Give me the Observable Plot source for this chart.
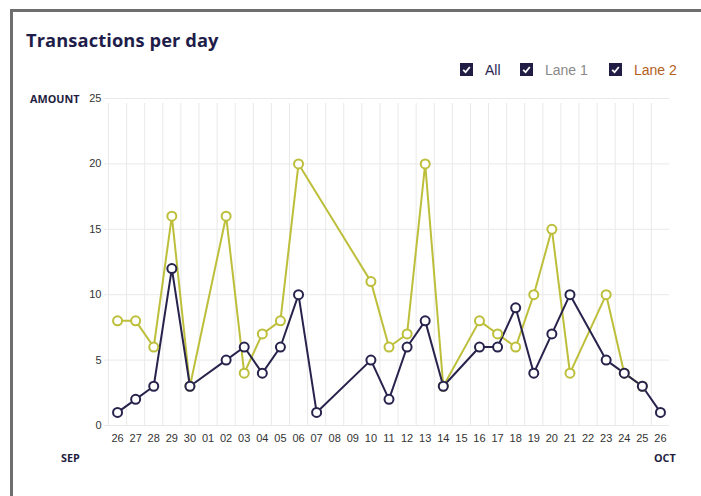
<!DOCTYPE html>
<html>
<head>
<meta charset="utf-8">
<script src="https://cdn.jsdelivr.net/npm/d3@7"></script>
<script src="https://cdn.jsdelivr.net/npm/@observablehq/plot@0.6"></script>
<style>
  html, body { margin: 0; padding: 0; background: #fff; width: 701px; height: 496px; overflow: hidden; }
  #card { position: absolute; left: 10px; top: 9px; width: 700px; height: 500px;
          border-top: 3px solid #6e6e6e; border-left: 3px solid #6e6e6e; box-sizing: border-box; }
  #title { position: absolute; left: 26px; top: 27px; font-family: "Open Sans", sans-serif; font-weight: 700;
           font-size: 18.3px; color: #1f1d4a; letter-spacing: 0.1px; }
  #legend { position: absolute; top: 61px; left: 460px; font-family: "Liberation Sans", Arial, sans-serif; font-size: 14px; }
  .item { position: absolute; top: 0; white-space: nowrap; }
  .box { position: absolute; top: 2px; left: 0; width: 13px; height: 13px; background: #221d45; }
  .box svg { position: absolute; left: 0; top: 0; }
  .lbl { position: absolute; left: 25px; top: 0; line-height: 18px; }
  .axlbl { position: absolute; font-family: "Open Sans", sans-serif; font-weight: 700; font-size: 10.8px; line-height: 14px; color: #1f1d3f; }
  #chart { position: absolute; left: 0; top: 80px; }
</style>
</head>
<body>
<div id="card"></div>
<div id="title">Transactions per day</div>
<div id="legend"></div>
<div class="axlbl" style="left:30px; top:92px;">AMOUNT</div>
<div class="axlbl" style="left:61px; top:451px;">SEP</div>
<div class="axlbl" style="left:654px; top:451px;">OCT</div>
<div id="chart"></div>
<script>
// ---- data ----
const dates = [
  "2023-09-26","2023-09-27","2023-09-28","2023-09-29","2023-09-30",
  "2023-10-01","2023-10-02","2023-10-03","2023-10-04","2023-10-05",
  "2023-10-06","2023-10-07","2023-10-08","2023-10-09","2023-10-10",
  "2023-10-11","2023-10-12","2023-10-13","2023-10-14","2023-10-15",
  "2023-10-16","2023-10-17","2023-10-18","2023-10-19","2023-10-20",
  "2023-10-21","2023-10-22","2023-10-23","2023-10-24","2023-10-25","2023-10-26"
];
// dark navy series (null = no point that day)
const seriesNavy = [1, 2, 3, 12, 3, null, 5, 6, 4, 6, 10, 1, null, null, 5, 2, 6, 8, 3, null, 6, 6, 9, 4, 7, 10, null, 5, 4, 3, 1];
// olive series
const seriesOlive = [8, 8, 6, 16, 3, null, 16, 4, 7, 8, 20, null, null, null, 11, 6, 7, 20, 3, null, 8, 7, 6, 10, 15, 4, null, 10, 4, 3, null];
const yTicks = [0, 5, 10, 15, 20, 25];
const legendItems = [
  {label: "All", color: "#2a2552"},
  {label: "Lane 1", color: "#8a8a8a"},
  {label: "Lane 2", color: "#b4601c"}
];
const legendX = [0, 60, 149];

const navyColor = "#27234d";
const oliveColor = "#bdbf3b";
const gridColor = "#e9e9e9";

// ---- legend ----
const legend = document.getElementById("legend");
legendItems.forEach((it, i) => {
  const d = document.createElement("div");
  d.className = "item";
  d.style.left = legendX[i] + "px";
  d.innerHTML = `<div class="box"><svg width="13" height="13"><path d="M3.2 6.8 L5.6 9.2 L9.8 4" stroke="#fff" stroke-width="1.8" fill="none"/></svg></div><span class="lbl" style="color:${it.color}">${it.label}</span>`;
  legend.appendChild(d);
});

// ---- chart ----
const parse = d3.utcParse("%Y-%m-%d");
const dayDates = dates.map(parse);
const toRows = (vals, series) => dayDates.map((d, i) => ({date: d, value: vals[i], series}))
  .filter(r => r.value != null);
const navy = toRows(seriesNavy, "navy");
const olive = toRows(seriesOlive, "olive");

const half = 12 * 3600 * 1000;
const x0 = new Date(+dayDates[0] - half);
const x1 = new Date(+dayDates[dayDates.length - 1] + half);
const bandEdges = d3.utcDay.range(new Date(+dayDates[0]), new Date(+dayDates[dayDates.length - 1] + 2 * half))
  .map(d => new Date(+d - half));

const chart = Plot.plot({
  width: 701,
  height: 400,
  marginLeft: 108,
  marginRight: 32,
  marginTop: 18,
  marginBottom: 55,
  style: {fontFamily: "'Liberation Sans', Arial, sans-serif", fontSize: "11px", color: "#333", background: "transparent"},
  x: {type: "utc", domain: [x0, x1], axis: null},
  y: {domain: [0, 25], axis: null},
  marks: [
    Plot.ruleY(yTicks, {stroke: gridColor, strokeWidth: 1, x1: x0, x2: x1, insetLeft: -4}),
    Plot.ruleX(bandEdges, {stroke: gridColor, strokeWidth: 1, y1: 0, y2: 25, insetBottom: -5}),
    Plot.axisY(yTicks, {tickSize: 0, tickPadding: 7, fontSize: 11, fill: "#333", label: null}),
    Plot.axisX(dayDates, {tickSize: 0, tickPadding: 9, fontSize: 11, fill: "#333", label: null, tickFormat: d3.utcFormat("%d")}),
    Plot.line(olive, {x: "date", y: "value", stroke: oliveColor, strokeWidth: 2}),
    Plot.line(navy, {x: "date", y: "value", stroke: navyColor, strokeWidth: 2}),
    Plot.dot(olive, {x: "date", y: "value", r: 4.5, stroke: oliveColor, strokeWidth: 2, fill: "white"}),
    Plot.dot(navy, {x: "date", y: "value", r: 4.5, stroke: navyColor, strokeWidth: 2, fill: "white"})
  ]
});
document.getElementById("chart").appendChild(chart);
</script>
</body>
</html>
